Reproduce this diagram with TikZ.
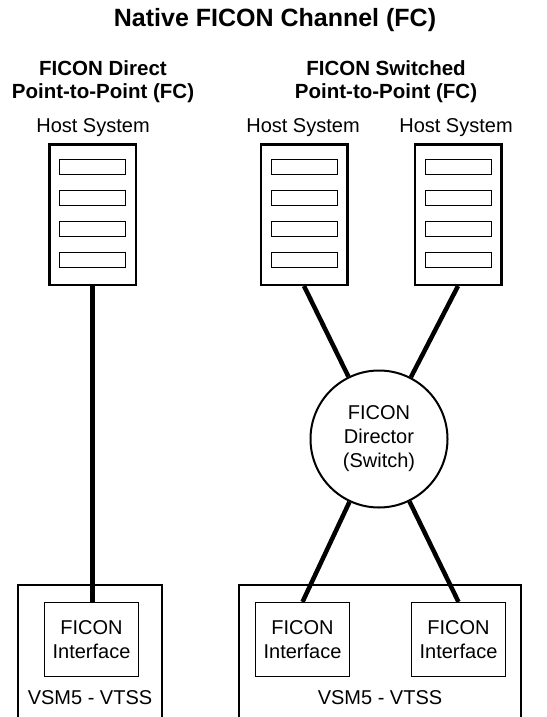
\documentclass[tikz,border=0pt]{standalone}
\usepackage{fontspec}
\setmainfont{Liberation Sans}
\begin{document}
\begin{tikzpicture}[x=1pt,y=-1pt,
  hostbox/.style={draw, line width=2.5pt, minimum width=86.5pt, minimum height=140.5pt, inner sep=0pt},
  slot/.style={draw, line width=0.9pt, minimum width=66pt, minimum height=15pt, inner sep=0pt},
  iface/.style={draw, line width=1.2pt, minimum width=94pt, minimum height=74pt, align=center, font=\fontsize{20}{24}\selectfont, inner sep=0pt},
  vsm/.style={draw, line width=2pt, inner sep=0pt},
  switchnode/.style={draw, circle, line width=2pt, minimum size=137pt, align=center, font=\fontsize{20}{24}\selectfont, inner sep=0pt},
  link/.style={line width=4.5pt},
  lbl/.style={font=\fontsize{20}{24}\selectfont, inner sep=0pt},
  head/.style={font=\bfseries\fontsize{20.5}{23}\selectfont, align=center, inner sep=0pt},
  titlestyle/.style={font=\bfseries\fontsize{25}{30}\selectfont, inner sep=0pt}]
\useasboundingbox (0,0) rectangle (546,717);

\node[titlestyle] (title) at (275,20) {Native FICON Channel (FC)};
\node[head] (hd1) at (103,81.5) {FICON Direct\\Point-to-Point (FC)};
\node[head] (hd2) at (386,81.5) {FICON Switched\\Point-to-Point (FC)};

\node[lbl] (l1) at (93,128) {Host System};
\node[lbl] (l2) at (303,128) {Host System};
\node[lbl] (l3) at (456,128) {Host System};

\node[hostbox] (h1) at (92.5,214.5) {};
\node[hostbox] (h2) at (304,214.5) {};
\node[hostbox] (h3) at (458,214.5) {};

\foreach \h in {h1,h2,h3}{
  \node[slot] (\h s1) at ([yshift=48pt]\h.center) {};
  \node[slot] (\h s2) at ([yshift=17pt]\h.center) {};
  \node[slot] (\h s3) at ([yshift=-14pt]\h.center) {};
  \node[slot] (\h s4) at ([yshift=-45pt]\h.center) {};
}

\node[switchnode] (sw) at (379,439) {FICON\\Director\\(Switch)};

\node[vsm, minimum width=144pt, minimum height=150pt] (v1) at (90,660) {};
\node[vsm, minimum width=282pt, minimum height=150pt] (v2) at (380,660) {};

\node[iface] (f1) at (91.5,639.5) {FICON\\Interface};
\node[iface] (f2) at (302.5,639.5) {FICON\\Interface};
\node[iface] (f3) at (458.5,639.5) {FICON\\Interface};

\node[lbl] (vl1) at (90,698) {VSM5 - VTSS};
\node[lbl] (vl2) at (380,698) {VSM5 - VTSS};

\draw[link] (h1.south) -- (h1.south |- f1.north);
\draw[link] (h2.south) -- (sw);
\draw[link] (h3.south) -- (sw);
\draw[link] (sw) -- (f2.north);
\draw[link] (sw) -- (f3.north);
\end{tikzpicture}
\end{document}
